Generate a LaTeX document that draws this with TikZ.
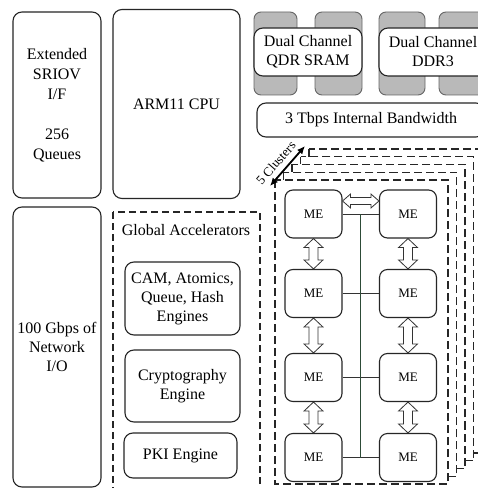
\documentclass[tikz,border=0pt]{standalone}
\usepackage{fontspec}
\setmainfont{Liberation Serif}
\usetikzlibrary{calc,arrows.meta}
\definecolor{busgreen}{RGB}{45,75,55}
\newcommand\vfat[2]{\path[fat] let \p1=(#1.south), \p2=(#2.north) in
  (\x1,\y1) -- (\x1+9.5pt,\y1-9pt) -- (\x1+4.5pt,\y1-9pt) -- (\x1+4.5pt,\y2+9pt) -- (\x1+9.5pt,\y2+9pt) --
  (\x1,\y2) -- (\x1-9.5pt,\y2+9pt) -- (\x1-4.5pt,\y2+9pt) -- (\x1-4.5pt,\y1-9pt) -- (\x1-9.5pt,\y1-9pt) -- cycle;}
\newcommand\hfat[2]{\path[fat] let \p1=($(#1.east)+(0,-13)$), \p2=($(#2.west)+(0,-13)$) in
  (\x1,\y1) -- (\x1+8pt,\y1+7pt) -- (\x1+8pt,\y1+3.5pt) -- (\x2-8pt,\y1+3.5pt) -- (\x2-8pt,\y1+7pt) --
  (\x2,\y1) -- (\x2-8pt,\y1-7pt) -- (\x2-8pt,\y1-3.5pt) -- (\x1+8pt,\y1-3.5pt) -- (\x1+8pt,\y1-7pt) -- cycle;}
\begin{document}
\begin{tikzpicture}[x=1bp,y=-1bp,
  box/.style={draw=black!85, line width=1.1bp, rounded corners=9bp, fill=white, align=center,
    inner sep=0pt, font=\fontsize{16bp}{19bp}\selectfont},
  chip/.style={draw=black!60, line width=0.9bp, rounded corners=7bp, fill=gray!55},
  frame/.style={draw=black!85, line width=1.4bp, dash pattern=on 8bp off 4bp, fill=white},
  me/.style={box, minimum width=57bp, minimum height=48bp, font=\fontsize{13bp}{15bp}\selectfont, rounded corners=8bp},
  fat/.style={draw=black!80, line width=0.8bp, fill=white},
  link/.style={draw=black!80, line width=0.8bp}
]
\useasboundingbox (0,0) rectangle (478,488);
\clip (0,0) rectangle (478,488);
\fill[white] (0,0) rectangle (478,488);

% left column
\node[box, minimum width=88bp, minimum height=186bp, font=\fontsize{16bp}{20bp}\selectfont] (sriov) at (57,105)
  {Extended\\SRIOV\\I/F\\[20bp]256\\Queues};
\node[box, minimum width=127bp, minimum height=189bp] (arm) at (176.5,104) {ARM11 CPU};
\node[box, minimum width=88bp, minimum height=280bp] (net) at (57,347) {100 Gbps of\\Network\\I/O};

% memories
\draw[chip] (254,12) rectangle (297,95);
\draw[chip] (315,12) rectangle (362,95);
\draw[chip] (379,12) rectangle (425,95);
\draw[chip] (439,12) rectangle (485,95);
\node[box, minimum width=108bp, minimum height=48bp] (qdr) at (308,52) {Dual Channel\\QDR SRAM};
\node[box, minimum width=108bp, minimum height=48bp] (ddr) at (433,52) {Dual Channel\\DDR3};
\node[box, minimum width=228bp, minimum height=34bp] (bw) at (371,120) {3 Tbps Internal Bandwidth};

% global accelerators
\draw[frame, line width=1.1bp, dash pattern=on 7bp off 4bp, fill=none] (113,212) rectangle (260,500);
\node[font=\fontsize{16bp}{19bp}\selectfont] (ga) at (186,230) {Global Accelerators};
\node[box, minimum width=115bp, minimum height=73bp] (cam) at (182.5,298.5) {CAM, Atomics,\\Queue, Hash\\Engines};
\node[box, minimum width=115bp, minimum height=72bp] (cry) at (182.5,386) {Cryptography\\Engine};
\node[box, minimum width=113bp, minimum height=45bp] (pki) at (180.5,455.5) {PKI Engine};

% cluster frames
\foreach \i in {4,3,2,1,0}
  \draw[frame] ({275+8.5*\i},{180-7.75*\i}) rectangle ({448+8.5*\i},{484-7.75*\i});
\coordinate (clA) at (270,186);
\coordinate (clB) at (305,146);
\draw[line width=1.8bp, {Latex[length=8bp,width=7bp]}-{Latex[length=8bp,width=7bp]}] (clA) -- (clB)
  node[pos=0.4, sloped, above=2bp, font=\fontsize{13bp}{15bp}\selectfont] {5 Clusters};

% micro engines
\node[me] (L1) at (313.5,214) {ME};
\node[me] (L2) at (313.5,293.5) {ME};
\node[me] (L3) at (313.5,377.5) {ME};
\node[me] (L4) at (313.5,457.5) {ME};
\node[me] (R1) at (408,214) {ME};
\node[me] (R2) at (408,293.5) {ME};
\node[me] (R3) at (408,377.5) {ME};
\node[me] (R4) at (408,457.5) {ME};

\vfat{L1}{L2}\vfat{L2}{L3}\vfat{L3}{L4}
\vfat{R1}{R2}\vfat{R2}{R3}\vfat{R3}{R4}
\hfat{L1}{R1}

\draw[link] (L1.east) -- (R1.west);
\draw[link] (L2.east) -- (R2.west);
\draw[link] (L3.east) -- (R3.west);
\draw[link] (L4.east) -- (R4.west);
\draw[link, draw=busgreen] ($(L1.east)!.5!(R1.west)$) -- ($(L4.east)!.5!(R4.west)$);
\end{tikzpicture}
\end{document}
